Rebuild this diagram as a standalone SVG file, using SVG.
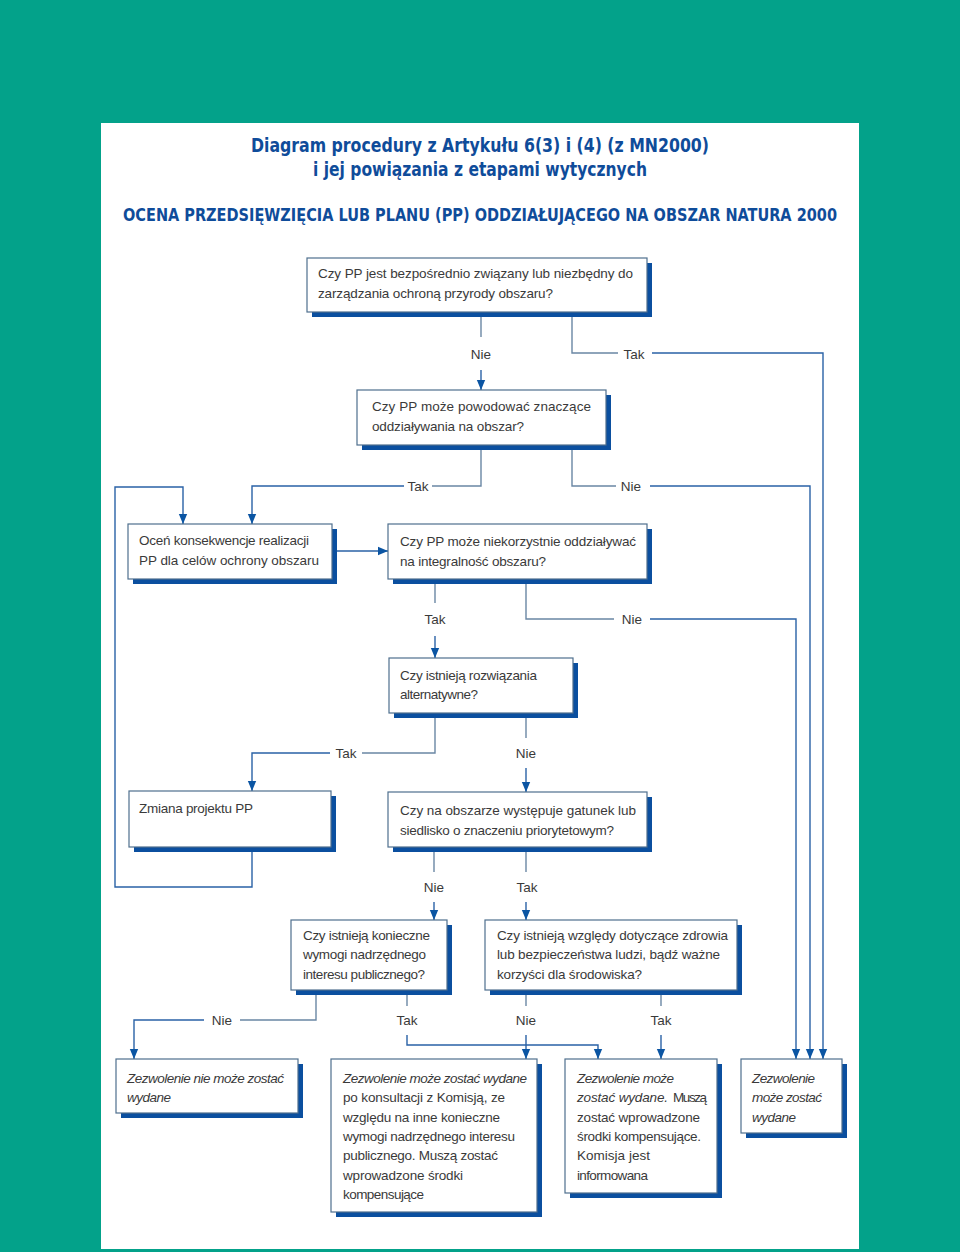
<svg xmlns="http://www.w3.org/2000/svg" width="960" height="1252" viewBox="0 0 960 1252">
<defs>
<marker id="ah" markerUnits="userSpaceOnUse" markerWidth="10" markerHeight="12" viewBox="0 0 12 10" refX="12" refY="5" orient="auto">
<path d="M0,0 L12,5 L0,10 z" fill="#0b55a3"/>
</marker>
<style>
.sh{fill:#0b4f9f}
.bx{fill:#ffffff;stroke:#4f6f8e;stroke-width:1.2}
.t{font-family:"Liberation Sans",Arial,sans-serif;font-size:13.5px;fill:#3a3a3a}
.i{font-style:italic}
.lb{font-family:"Liberation Sans",Arial,sans-serif;font-size:13.5px;fill:#3a3a3a;text-anchor:middle}
.ttl{font-family:"DejaVu Sans","Liberation Sans",sans-serif;font-stretch:condensed;font-weight:bold;fill:#0f4c9a;text-anchor:middle}
.ln{fill:none;stroke:#6a87a4;stroke-width:1.4}
.ar{fill:none;stroke:#2a62a6;stroke-width:1.4;marker-end:url(#ah)}
</style>
</defs>
<rect x="0" y="0" width="960" height="1252" fill="#03a28a"/>
<rect x="101" y="123" width="758" height="1126" fill="#ffffff"/>

<g id="title">
<text class="ttl" x="480" y="152" font-size="19" textLength="458" lengthAdjust="spacingAndGlyphs">Diagram procedury z Artykułu 6(3) i (4) (z MN2000)</text>
<text class="ttl" x="480" y="176" font-size="19" textLength="334" lengthAdjust="spacingAndGlyphs">i jej powiązania z etapami wytycznych</text>
<text class="ttl" x="480" y="221" font-size="17" textLength="714" lengthAdjust="spacingAndGlyphs">OCENA PRZEDSIĘWZIĘCIA LUB PLANU (PP) ODDZIAŁUJĄCEGO NA OBSZAR NATURA 2000</text>
</g>

<g id="connectors">
<polyline class="ln" points="481,317 481,337"/>
<polyline class="ar" points="481,370 481,390"/>
<polyline class="ln" points="572,317 572,353 618,353"/>
<polyline class="ar" points="652,353 823,353 823,1059"/>
<polyline class="ln" points="481,450 481,486 432,486"/>
<polyline class="ar" points="404,486 252,486 252,524"/>
<polyline class="ln" points="572,450 572,486 616,486"/>
<polyline class="ar" points="650,486 810,486 810,1059"/>
<polyline class="ar" points="337,551 388,551"/>
<polyline class="ln" points="435,584 435,603"/>
<polyline class="ar" points="435,636 435,658"/>
<polyline class="ln" points="526,584 526,619 614,619"/>
<polyline class="ar" points="650,619 796,619 796,1059"/>
<polyline class="ln" points="435,718 435,753 362,753"/>
<polyline class="ar" points="330,753 252,753 252,791"/>
<polyline class="ln" points="526,718 526,738"/>
<polyline class="ar" points="526,768 526,792"/>
<polyline class="ar" points="252,852 252,887 115,887 115,487 183,487 183,524"/>
<polyline class="ln" points="434,852 434,872"/>
<polyline class="ar" points="434,902 434,920"/>
<polyline class="ln" points="526,852 526,872"/>
<polyline class="ar" points="526,902 526,920"/>
<polyline class="ln" points="316,995 316,1020 240,1020"/>
<polyline class="ar" points="204,1020 134,1020 134,1059"/>
<polyline class="ln" points="407,995 407,1006"/>
<polyline class="ar" points="407,1035 407,1045 598,1045 598,1059"/>
<polyline class="ln" points="526,995 526,1006"/>
<polyline class="ar" points="526,1035 526,1059"/>
<polyline class="ln" points="661,995 661,1006"/>
<polyline class="ar" points="661,1035 661,1059"/>
<text class="lb" x="481" y="359">Nie</text>
<text class="lb" x="634" y="359">Tak</text>
<text class="lb" x="418" y="491">Tak</text>
<text class="lb" x="631" y="491">Nie</text>
<text class="lb" x="435" y="624">Tak</text>
<text class="lb" x="632" y="624">Nie</text>
<text class="lb" x="346" y="758">Tak</text>
<text class="lb" x="526" y="758">Nie</text>
<text class="lb" x="434" y="892">Nie</text>
<text class="lb" x="527" y="892">Tak</text>
<text class="lb" x="222" y="1025">Nie</text>
<text class="lb" x="407" y="1025">Tak</text>
<text class="lb" x="526" y="1025">Nie</text>
<text class="lb" x="661" y="1025">Tak</text>
</g>

<g id="n1">
<rect class="sh" x="312" y="263" width="340" height="54"/>
<rect class="bx" x="307" y="258" width="340" height="54"/>
<text class="t" x="318" y="278" textLength="315" lengthAdjust="spacing">Czy PP jest bezpośrednio związany lub niezbędny do</text>
<text class="t" x="318" y="298" textLength="235" lengthAdjust="spacing">zarządzania ochroną przyrody obszaru?</text>
</g>

<g id="n2">
<rect class="sh" x="362" y="395" width="249" height="55"/>
<rect class="bx" x="357" y="390" width="249" height="55"/>
<text class="t" x="372" y="411" textLength="219" lengthAdjust="spacing">Czy PP może powodować znaczące</text>
<text class="t" x="372" y="431" textLength="152" lengthAdjust="spacing">oddziaływania na obszar?</text>
</g>

<g id="n3">
<rect class="sh" x="133" y="529" width="204" height="55"/>
<rect class="bx" x="128" y="524" width="204" height="55"/>
<text class="t" x="139" y="545" textLength="170" lengthAdjust="spacing">Oceń konsekwencje realizacji</text>
<text class="t" x="139" y="565" textLength="180" lengthAdjust="spacing">PP dla celów ochrony obszaru</text>
</g>

<g id="n4">
<rect class="sh" x="393" y="529" width="259" height="55"/>
<rect class="bx" x="388" y="524" width="259" height="55"/>
<text class="t" x="400" y="546" textLength="236" lengthAdjust="spacing">Czy PP może niekorzystnie oddziaływać</text>
<text class="t" x="400" y="566" textLength="146" lengthAdjust="spacing">na integralność obszaru?</text>
</g>

<g id="n5">
<rect class="sh" x="394" y="663" width="184" height="55"/>
<rect class="bx" x="389" y="658" width="184" height="55"/>
<text class="t" x="400" y="680" textLength="137" lengthAdjust="spacing">Czy istnieją rozwiązania</text>
<text class="t" x="400" y="699" textLength="78" lengthAdjust="spacing">alternatywne?</text>
</g>

<g id="n6">
<rect class="sh" x="134" y="796" width="202" height="56"/>
<rect class="bx" x="129" y="791" width="202" height="56"/>
<text class="t" x="139" y="813" textLength="114" lengthAdjust="spacing">Zmiana projektu PP</text>
</g>

<g id="n7">
<rect class="sh" x="393" y="797" width="259" height="55"/>
<rect class="bx" x="388" y="792" width="259" height="55"/>
<text class="t" x="400" y="815" textLength="236" lengthAdjust="spacing">Czy na obszarze występuje gatunek lub</text>
<text class="t" x="400" y="835" textLength="214" lengthAdjust="spacing">siedlisko o znaczeniu priorytetowym?</text>
</g>

<g id="n8">
<rect class="sh" x="296" y="925" width="156" height="70"/>
<rect class="bx" x="291" y="920" width="156" height="70"/>
<text class="t" x="303" y="940" textLength="127" lengthAdjust="spacing">Czy istnieją konieczne</text>
<text class="t" x="303" y="959" textLength="123" lengthAdjust="spacing">wymogi nadrzędnego</text>
<text class="t" x="303" y="979" textLength="122" lengthAdjust="spacing">interesu publicznego?</text>
</g>

<g id="n9">
<rect class="sh" x="490" y="925" width="252" height="70"/>
<rect class="bx" x="485" y="920" width="252" height="70"/>
<text class="t" x="497" y="940" textLength="231" lengthAdjust="spacing">Czy istnieją względy dotyczące zdrowia</text>
<text class="t" x="497" y="959" textLength="223" lengthAdjust="spacing">lub bezpieczeństwa ludzi, bądź ważne</text>
<text class="t" x="497" y="979" textLength="145" lengthAdjust="spacing">korzyści dla środowiska?</text>
</g>

<g id="n10">
<rect class="sh" x="121" y="1064" width="182" height="54"/>
<rect class="bx" x="116" y="1059" width="182" height="54"/>
<text class="t i" x="127" y="1083" textLength="157" lengthAdjust="spacing">Zezwolenie nie może zostać</text>
<text class="t i" x="127" y="1102" textLength="44" lengthAdjust="spacing">wydane</text>
</g>

<g id="n11">
<rect class="sh" x="336" y="1064" width="206" height="153"/>
<rect class="bx" x="331" y="1059" width="206" height="153"/>
<text class="t i" x="343" y="1083" textLength="184" lengthAdjust="spacing">Zezwolenie może zostać wydane</text>
<text class="t" x="343" y="1102" textLength="162" lengthAdjust="spacing">po konsultacji z Komisją, ze</text>
<text class="t" x="343" y="1122" textLength="157" lengthAdjust="spacing">względu na inne konieczne</text>
<text class="t" x="343" y="1141" textLength="172" lengthAdjust="spacing">wymogi nadrzędnego interesu</text>
<text class="t" x="343" y="1160" textLength="155" lengthAdjust="spacing">publicznego. Muszą zostać</text>
<text class="t" x="343" y="1180" textLength="120" lengthAdjust="spacing">wprowadzone środki</text>
<text class="t" x="343" y="1199" textLength="81" lengthAdjust="spacing">kompensujące</text>
</g>

<g id="n12">
<rect class="sh" x="570" y="1064" width="152" height="134"/>
<rect class="bx" x="565" y="1059" width="152" height="134"/>
<text class="t i" x="577" y="1083" textLength="97" lengthAdjust="spacing">Zezwolenie może</text>
<text class="t i" x="577" y="1102" textLength="91" lengthAdjust="spacing">zostać wydane.</text>
<text class="t" x="673" y="1102" textLength="34" lengthAdjust="spacing">Muszą</text>
<text class="t" x="577" y="1122" textLength="123" lengthAdjust="spacing">zostać wprowadzone</text>
<text class="t" x="577" y="1141" textLength="124" lengthAdjust="spacing">środki kompensujące.</text>
<text class="t" x="577" y="1160" textLength="73" lengthAdjust="spacing">Komisja jest</text>
<text class="t" x="577" y="1180" textLength="71" lengthAdjust="spacing">informowana</text>
</g>

<g id="n13">
<rect class="sh" x="746" y="1064" width="101" height="74"/>
<rect class="bx" x="741" y="1059" width="101" height="74"/>
<text class="t i" x="752" y="1083" textLength="63" lengthAdjust="spacing">Zezwolenie</text>
<text class="t i" x="752" y="1102" textLength="70" lengthAdjust="spacing">może zostać</text>
<text class="t i" x="752" y="1122" textLength="44" lengthAdjust="spacing">wydane</text>
</g>
</svg>
